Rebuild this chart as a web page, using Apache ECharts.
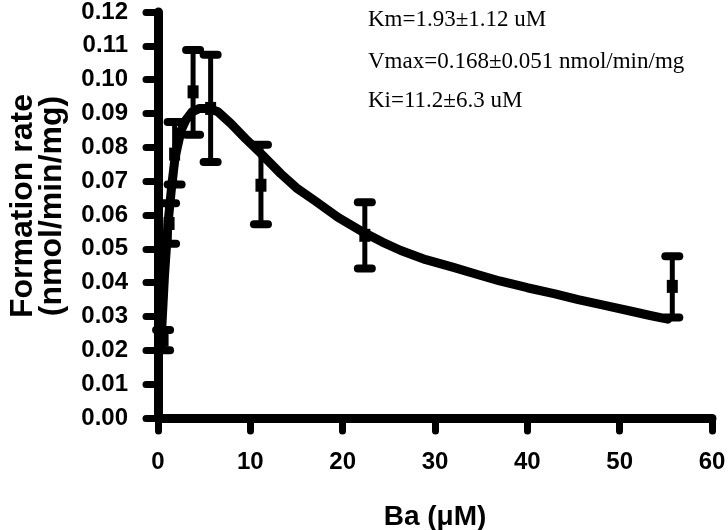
<!DOCTYPE html>
<html>
<head>
<meta charset="utf-8">
<script src="https://cdn.jsdelivr.net/npm/echarts@6/dist/echarts.min.js"></script>
<style>html,body{margin:0;padding:0;background:#fff}#c{width:728px;height:530px}</style>
</head>
<body>
<div id="c"></div>
<script>
// Measured data (concentration in µM, formation rate in nmol/min/mg)
const conc    = [0.55, 1.2, 1.8, 3.8, 5.7, 11.15, 22.4, 55.7];
const rate    = [0.023, 0.0575, 0.078, 0.0964, 0.0915, 0.0688, 0.054, 0.0389];
const errLow  = [0.020, 0.0515, 0.069, 0.0837, 0.0757, 0.0573, 0.0442, 0.0297];
const errHigh = [0.026, 0.0635, 0.0875, 0.1088, 0.1074, 0.0808, 0.0638, 0.0478];

// Fitted curve
const fitX = [0.4, 0.7, 1.1, 1.5, 1.85, 2.5, 3.0, 3.7, 4.5, 5.5, 6.5, 7.9, 9.5, 11.1, 13.3, 15, 16.9, 19.5, 22.3, 24.3, 26.3, 29, 32, 34.5, 37, 40, 43, 45.5, 48, 51.5, 53.3, 55.2];
const fitY = [0.026, 0.042, 0.058, 0.069, 0.077, 0.085, 0.088, 0.0905, 0.0915, 0.0915, 0.0905, 0.087, 0.0825, 0.0783, 0.0722, 0.068, 0.0644, 0.0593, 0.0548, 0.052, 0.0495, 0.0468, 0.0445, 0.0425, 0.0405, 0.0385, 0.0367, 0.035, 0.0335, 0.0314, 0.0303, 0.0292];

const xTickLabels = ['0', '10', '20', '30', '40', '50', '60'];
const yTickLabels = ['0.00','0.01','0.02','0.03','0.04','0.05','0.06','0.07','0.08','0.09','0.10','0.11','0.12'];

const annotations = ['Km=1.93\u00b11.12 uM', 'Vmax=0.168\u00b10.051 nmol/min/mg', 'Ki=11.2\u00b16.3 uM'];
const xTitle = 'Ba (\u03bcM)';
const yTitle = 'Formation rate\n(nmol/min/mg)';

const chart = echarts.init(document.getElementById('c'), null, {renderer: 'canvas'});
const sans = "'Liberation Sans', Arial, sans-serif";
const serif = "'Liberation Serif', 'Times New Roman', serif";

const points = conc.map((x, i) => [x, rate[i]]);
const bars = conc.map((x, i) => [x, errLow[i], errHigh[i]]);
const curve = fitX.map((x, i) => [x, fitY[i]]);

chart.setOption({
  animation: false,
  backgroundColor: '#fff',
  grid: {left: 158, right: 16, top: 12, bottom: 112, outerBoundsMode: 'none', containLabel: false},
  xAxis: {
    type: 'value', min: 0, max: 60, interval: 10,
    name: xTitle, nameLocation: 'middle', nameGap: 85,
    nameTextStyle: {fontFamily: sans, fontSize: 28, fontWeight: 'bold', color: '#000', verticalAlign: 'top'},
    axisLine: {lineStyle: {color: '#000', width: 9, cap: 'round'}},
    axisTick: {show: true, length: 13, lineStyle: {color: '#000', width: 7, cap: 'round'}},
    axisLabel: {margin: 32, fontFamily: sans, fontSize: 24, fontWeight: 'bold', color: '#000',
      formatter: (v) => xTickLabels[Math.round(v / 10)]},
    splitLine: {show: false}
  },
  yAxis: {
    type: 'value', min: 0, max: 0.12, interval: 0.01,
    name: yTitle, nameLocation: 'middle', nameGap: 91, nameRotate: 90,
    nameTextStyle: {fontFamily: sans, fontSize: 32, fontWeight: 'bold', color: '#000', lineHeight: 29, padding: [0, 0, 0, 18]},
    axisLine: {lineStyle: {color: '#000', width: 9, cap: 'round'}},
    axisTick: {show: true, length: 12, lineStyle: {color: '#000', width: 7, cap: 'round'}},
    axisLabel: {margin: 30, fontFamily: sans, fontSize: 24, fontWeight: 'bold', color: '#000',
      formatter: (v) => yTickLabels[Math.round(v * 100)]},
    splitLine: {show: false}
  },
  graphic: annotations.map((t, i) => ({
    type: 'text', x: 368, y: [20, 62, 101][i], z: 100,
    style: {text: t, fontFamily: serif, fontSize: 23, fill: '#000', verticalAlign: 'middle', align: 'left'}
  })),
  series: [
    {
      type: 'custom', data: bars, z: 3,
      renderItem: function (params, api) {
        const x = api.value(0), lo = api.value(1), hi = api.value(2);
        const a = api.coord([x, lo]), b = api.coord([x, hi]);
        const hw = 7;
        const cap = {stroke: '#000', lineWidth: 8, lineCap: 'round'};
        return {type: 'group', children: [
          {type: 'line', shape: {x1: a[0], y1: a[1], x2: b[0], y2: b[1]}, style: {stroke: '#000', lineWidth: 5}},
          {type: 'line', shape: {x1: b[0] - hw, y1: b[1], x2: b[0] + hw, y2: b[1]}, style: cap},
          {type: 'line', shape: {x1: a[0] - hw, y1: a[1], x2: a[0] + hw, y2: a[1]}, style: cap}
        ]};
      }
    },
    {
      type: 'scatter', data: points, symbol: 'rect', symbolSize: [11, 13], z: 4,
      itemStyle: {color: '#000', opacity: 1}
    },
    {
      type: 'line', data: curve, smooth: false, showSymbol: false, z: 5,
      lineStyle: {color: '#000', width: 9, cap: 'round', join: 'round'}
    }
  ]
});
</script>
</body>
</html>
